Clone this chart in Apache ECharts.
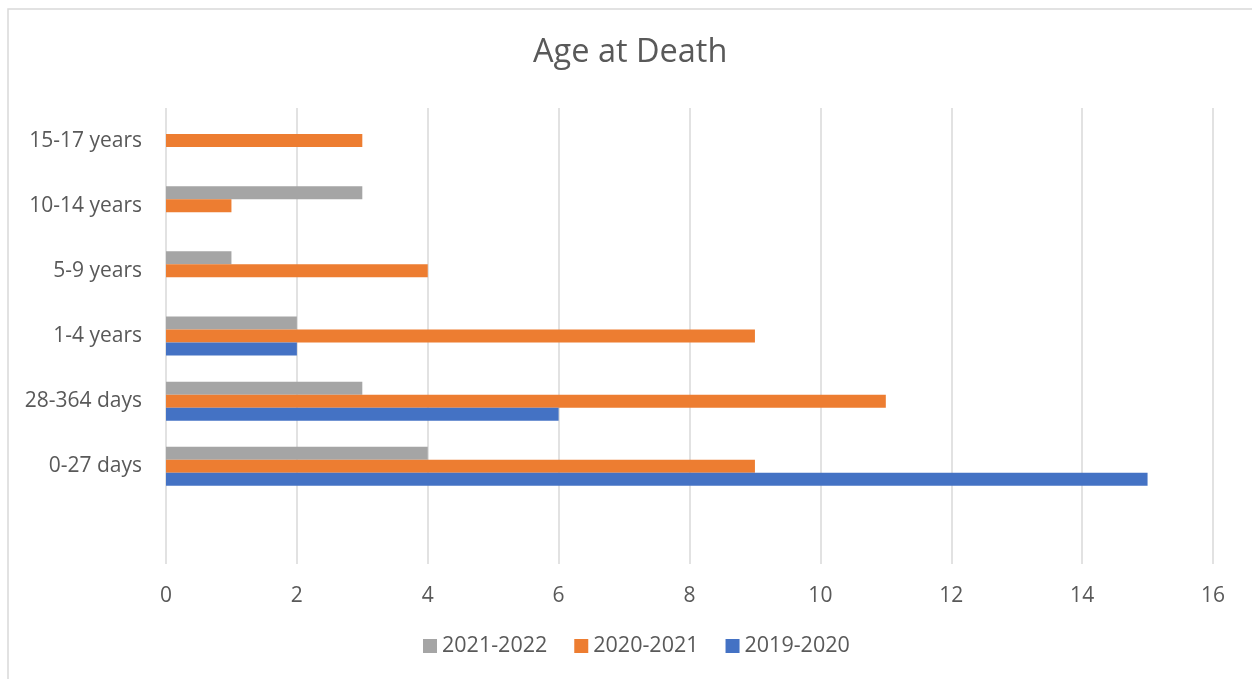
<!DOCTYPE html>
<html>
<head>
<meta charset="utf-8">
<title>Age at Death</title>
<script src="https://cdn.jsdelivr.net/npm/echarts@6/dist/echarts.min.js"></script>
<style>
    html, body { margin: 0; padding: 0; background: #fff; }
    #chart { width: 1252px; height: 679px; }
</style>
</head>
<body>
<div id="chart"></div>
<script>
// 分类（从下到上），最下面一格是空的
var categories = ['', '0-27 days', '28-364 days', '1-4 years', '5-9 years', '10-14 years', '15-17 years'];

var seriesNames = ['2021-2022', '2020-2021', '2019-2020'];
var data2021 = [null, 4, 3, 2, 1, 3, 0];
var data2020 = [null, 9, 11, 9, 4, 1, 3];
var data2019 = [null, 15, 6, 2, 0, 0, 0];

var xTicks = [0, 2, 4, 6, 8, 10, 12, 14, 16];

var colors = ['#A5A5A5', '#ED7D31', '#4472C4'];
var textColor = '#595959';
var fontFamily = '"Open Sans", "Noto Sans", sans-serif';

var chart = echarts.init(document.getElementById('chart'));

function barSeries(name, data, color) {
    return {
        name: name,
        type: 'bar',
        data: data,
        barWidth: 13,
        barGap: '0%',
        itemStyle: { color: color },
        emphasis: { disabled: true }
    };
}

var option = {
    animation: false,
    textStyle: { fontFamily: fontFamily },
    title: {
        text: 'Age at Death',
        left: 528,
        top: 31,
        textStyle: { color: textColor, fontSize: 32.5, fontWeight: 'normal', fontFamily: fontFamily }
    },
    legend: {
        data: seriesNames,
        bottom: 17,
        left: 418,
        itemWidth: 14,
        itemHeight: 14,
        itemGap: 27,
        icon: 'rect',
        textStyle: { color: textColor, fontSize: 21.5, fontFamily: fontFamily }
    },
    grid: {
        left: 166,
        right: 39,
        top: 108,
        bottom: 115,
        containLabel: false
    },
    xAxis: {
        type: 'value',
        min: xTicks[0],
        max: xTicks[xTicks.length - 1],
        interval: 2,
        axisLine: { show: false },
        axisTick: { show: false },
        axisLabel: { color: textColor, fontSize: 21, margin: 22, fontFamily: fontFamily },
        splitLine: { lineStyle: { color: '#D9D9D9', width: 1.5 } }
    },
    yAxis: {
        type: 'category',
        data: categories,
        axisLine: { show: false },
        axisTick: { show: false },
        axisLabel: { color: textColor, fontSize: 21, margin: 24, fontFamily: fontFamily }
    },
    graphic: [{
        type: 'rect',
        shape: { x: 8, y: 9, width: 1260, height: 700 },
        style: { fill: 'none', stroke: '#D9D9D9', lineWidth: 1.5 },
        silent: true
    }],
    series: [
        barSeries(seriesNames[0], data2021, colors[0]),
        barSeries(seriesNames[1], data2020, colors[1]),
        barSeries(seriesNames[2], data2019, colors[2])
    ]
};

chart.setOption(option);
</script>
</body>
</html>
